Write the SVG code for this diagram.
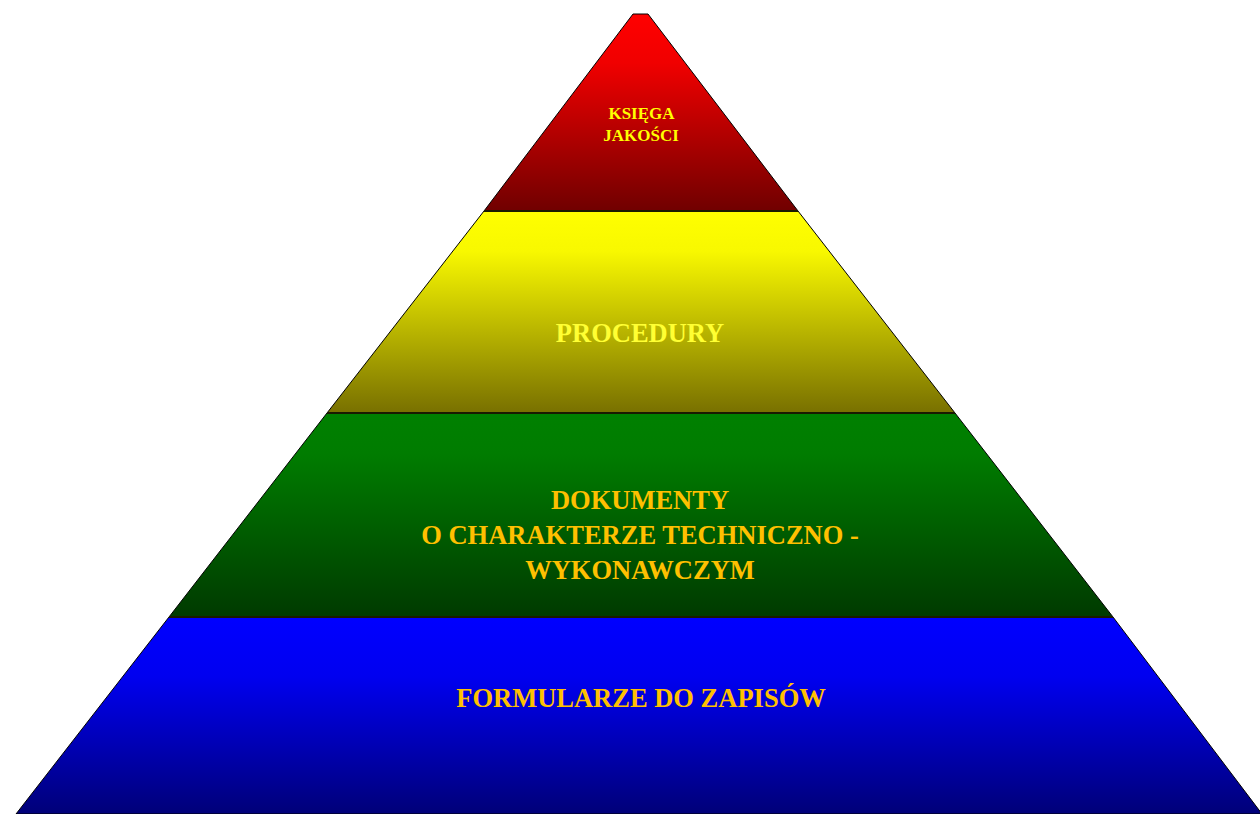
<svg xmlns="http://www.w3.org/2000/svg" width="1260" height="814" viewBox="0 0 1260 814">
<defs>
<linearGradient id="gRed" x1="0" y1="0" x2="0" y2="1"><stop offset="0" stop-color="#FF0000"/><stop offset="0.25" stop-color="#F00000"/><stop offset="1" stop-color="#700000"/></linearGradient>
<linearGradient id="gYel" x1="0" y1="0" x2="0" y2="1"><stop offset="0" stop-color="#FFFF00"/><stop offset="0.2" stop-color="#F8F800"/><stop offset="1" stop-color="#787000"/></linearGradient>
<linearGradient id="gGrn" x1="0" y1="0" x2="0" y2="1"><stop offset="0" stop-color="#008000"/><stop offset="0.2" stop-color="#007C00"/><stop offset="1" stop-color="#003A00"/></linearGradient>
<linearGradient id="gBlu" x1="0" y1="0" x2="0" y2="1"><stop offset="0" stop-color="#0000FF"/><stop offset="0.3" stop-color="#0000F0"/><stop offset="1" stop-color="#000078"/></linearGradient>
</defs>
<style>
.layer{stroke:#000;stroke-width:1}
.sep{stroke:#1a1a00;stroke-width:2}
.t{font-family:"Liberation Serif","Times New Roman",serif;font-weight:bold;text-anchor:middle}
.big{font-size:26.5px}
.small{font-size:17px}
</style>
<rect width="1260" height="814" fill="#fff"/>
<g id="layer-ksiega">
<polygon class="layer" fill="url(#gRed)" points="633,14 648,14 798,211 484,211"/>
<text class="t small" x="641.5" y="119" fill="#FFFF00">KSIĘGA</text>
<text class="t small" x="641" y="141" fill="#FFFF00">JAKOŚCI</text>
</g>
<g id="layer-procedury">
<polygon class="layer" fill="url(#gYel)" points="484,211 798,211 955,413 327,413"/>
<text class="t big" x="640" y="342" fill="#FFFF33">PROCEDURY</text>
</g>
<g id="layer-dokumenty">
<polygon class="layer" fill="url(#gGrn)" points="327,413 955,413 1113,617 169,617"/>
<text class="t big" x="640" y="509" fill="#FFC000">DOKUMENTY</text>
<text class="t big" x="640" y="544" fill="#FFC000">O CHARAKTERZE TECHNICZNO -</text>
<text class="t big" x="640" y="579" fill="#FFC000">WYKONAWCZYM</text>
</g>
<g id="layer-formularze">
<polygon class="layer" fill="url(#gBlu)" points="169,617 1113,617 1262,814 16,814"/>
<text class="t big" x="641" y="707" fill="#FFC000">FORMULARZE DO ZAPISÓW</text>
</g>
<g id="connectors">
<line class="sep" x1="484" y1="211" x2="798" y2="211"/>
<line class="sep" x1="327" y1="413" x2="955" y2="413"/>
<line class="sep" x1="169" y1="617" x2="1113" y2="617"/>
</g>
</svg>
